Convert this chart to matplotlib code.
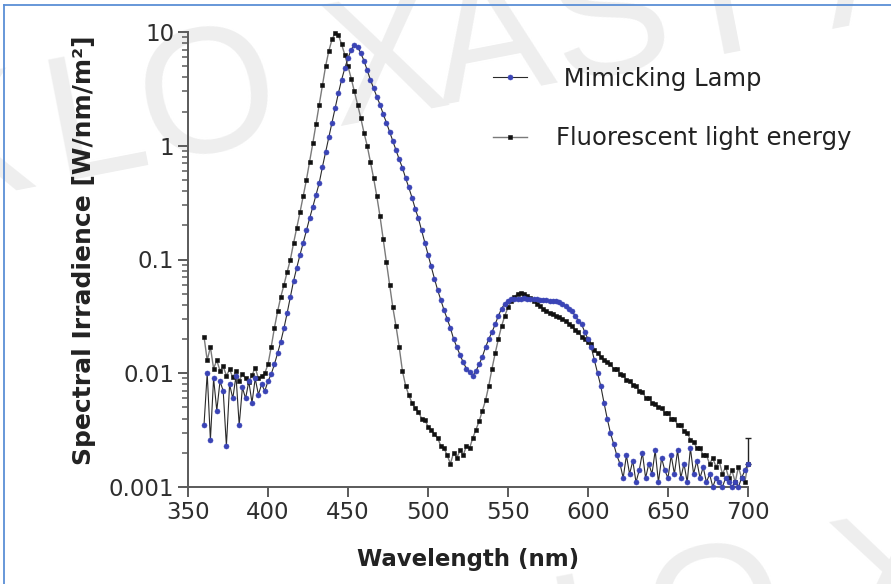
import numpy as np
import matplotlib
matplotlib.use("Agg")
import matplotlib.pyplot as plt
from matplotlib.lines import Line2D
from matplotlib.ticker import FixedLocator, FixedFormatter, LogLocator, NullFormatter

# ---------------- data ----------------
wavelength = np.arange(360, 702, 2)  # nm, sampling grid

fluorescent = [
    0.021, 0.013, 0.017, 0.011, 0.013, 0.0105, 0.0115, 0.0095, 0.0108, 0.0092,
    0.0104, 0.0086, 0.0098, 0.0090, 0.0084, 0.0096, 0.0112, 0.0090, 0.0094, 0.0100,
    0.012, 0.017, 0.025, 0.035, 0.047, 0.060, 0.078, 0.10, 0.14, 0.19,
    0.26, 0.36, 0.50, 0.72, 1.05, 1.55, 2.3, 3.4, 5.0, 6.8,
    8.6, 9.8, 9.4, 7.8, 6.3, 5.0, 3.9, 3.0, 2.3, 1.75,
    1.3, 1.0, 0.72, 0.52, 0.36, 0.24, 0.15, 0.095, 0.060, 0.038,
    0.026, 0.017, 0.0105, 0.0078, 0.0064, 0.0055, 0.0049, 0.0046, 0.0040, 0.0039,
    0.0034, 0.0032, 0.0029, 0.0027, 0.0023, 0.0022, 0.0019, 0.0016, 0.0020, 0.0018,
    0.0021, 0.0019, 0.0023, 0.0022, 0.0027, 0.0032, 0.0038, 0.0047, 0.0058, 0.0078,
    0.011, 0.015, 0.020, 0.026, 0.032, 0.038, 0.043, 0.047, 0.050, 0.051,
    0.050, 0.048, 0.046, 0.043, 0.041, 0.039, 0.037, 0.035, 0.034, 0.033,
    0.032, 0.031, 0.030, 0.029, 0.027, 0.026, 0.024, 0.023, 0.021, 0.020,
    0.019, 0.018, 0.016, 0.015, 0.014, 0.013, 0.0125, 0.012, 0.011, 0.011,
    0.0098, 0.0096, 0.0088, 0.0086, 0.0079, 0.0078, 0.0070, 0.0069, 0.0061, 0.0061,
    0.0055, 0.0054, 0.0050, 0.0049, 0.0045, 0.0045, 0.0040, 0.0040, 0.0035, 0.0035,
    0.0031, 0.0030, 0.0026, 0.0025, 0.0022, 0.0022, 0.0019, 0.0019, 0.0016, 0.0018,
    0.0015, 0.0017, 0.0013, 0.0015, 0.0012, 0.0014, 0.0011, 0.0015, 0.0012, 0.0011,
    0.0016,
]

mimicking = [
    0.0035, 0.0100, 0.0026, 0.0090, 0.0047, 0.0085, 0.0070, 0.0023, 0.0080, 0.0060,
    0.0095, 0.0035, 0.0075, 0.0060, 0.0085, 0.0055, 0.0090, 0.0065, 0.0080, 0.0070,
    0.0085, 0.0098, 0.012, 0.015, 0.019, 0.025, 0.034, 0.047, 0.065, 0.085,
    0.11, 0.14, 0.18, 0.23, 0.29, 0.37, 0.47, 0.65, 0.88, 1.2,
    1.6, 2.15, 2.9, 3.8, 4.8, 5.9, 7.0, 7.7, 7.4, 6.5,
    5.6, 4.6, 3.8, 3.2, 2.7, 2.3, 1.9, 1.6, 1.33, 1.1,
    0.92, 0.76, 0.64, 0.52, 0.43, 0.35, 0.28, 0.23, 0.18, 0.14,
    0.11, 0.087, 0.068, 0.054, 0.044, 0.036, 0.030, 0.025, 0.020, 0.017,
    0.0145, 0.0125, 0.011, 0.0102, 0.0095, 0.0105, 0.012, 0.014, 0.017, 0.020,
    0.023, 0.027, 0.032, 0.037, 0.041, 0.043, 0.045, 0.045, 0.045, 0.045,
    0.0455, 0.045, 0.045, 0.0445, 0.0445, 0.044, 0.044, 0.0438, 0.0435, 0.043,
    0.043, 0.042, 0.041, 0.039, 0.037, 0.035, 0.032, 0.029, 0.027, 0.023,
    0.020, 0.017, 0.013, 0.0100, 0.0077, 0.0055, 0.0040, 0.0030, 0.0024, 0.0019,
    0.0016, 0.0012, 0.0019, 0.0013, 0.0017, 0.0011, 0.0014, 0.0020, 0.0012, 0.0016,
    0.0013, 0.0021, 0.0011, 0.0018, 0.0014, 0.0012, 0.0019, 0.0013, 0.0021, 0.0012,
    0.0016, 0.0011, 0.0022, 0.0013, 0.0017, 0.0012, 0.0015, 0.0011, 0.0013, 0.0010,
    0.0012, 0.0011, 0.0010, 0.0012, 0.0011, 0.0010, 0.0011, 0.0010, 0.0012, 0.0014,
    0.0016,
]

# single visible error bar at the end of the fluorescent series
err_x = [700]
err_y = [0.0016]
err_up = [0.0011]

series_labels = [" Mimicking Lamp", "Fluorescent light energy"]
xticks = [350, 400, 450, 500, 550, 600, 650, 700]
yticks = [0.001, 0.01, 0.1, 1, 10]
ytick_labels = ["0.001", "0.01", "0.1", "1", "10"]
watermark_text = "KLOXASIA"

# ---------------- figure ----------------
W, H = 891, 584
fig = plt.figure(figsize=(W / 100, H / 100), dpi=100)
fig.patch.set_facecolor("white")
FONT = "DejaVu Sans"

# watermark (behind everything), letters placed along a slightly rising baseline
wm_color = "#eeeeee"
wm_centers = [-20, 105, 218, 395, 500, 620, 732, 890]   # pixel x of each letter
wm_angle = 11.0
tan_a = np.tan(np.radians(wm_angle))
for dx, dy in [(0, 0), (508, 517)]:
    for ch, cx in zip(watermark_text, wm_centers):
        by = 180 - (cx - 57) * tan_a
        fig.text((cx + dx) / W, 1 - (by + dy) / H, ch, fontsize=128,
                 color=wm_color, family="Liberation Sans", rotation=wm_angle,
                 rotation_mode="anchor", ha="center", va="baseline", zorder=-5)

# border (left and top)
bcol = "#5b8fd6"
fig.add_artist(Line2D([4 / W, 4 / W], [0, 1 - 5 / H], color=bcol, lw=1.3,
                      transform=fig.transFigure, zorder=10))
fig.add_artist(Line2D([4 / W, 1], [1 - 5 / H, 1 - 5 / H], color=bcol, lw=1.3,
                      transform=fig.transFigure, zorder=10))

ax = fig.add_axes([188 / W, 1 - 487 / H, 560 / W, 455 / H])
ax.set_zorder(2)
ax.patch.set_alpha(0)

fl_line, = ax.plot(wavelength, fluorescent, color="#7a7a7a", lw=1.0,
                   marker="s", markersize=3.2, markerfacecolor="#111111",
                   markeredgecolor="#111111", markeredgewidth=0.4,
                   label=series_labels[1], zorder=3, clip_on=False)
ax.errorbar(err_x, err_y, yerr=[[0], err_up], fmt="none", ecolor="#222222",
            elinewidth=1.0, capsize=2.5, capthick=1.0, zorder=3, clip_on=False)
mi_line, = ax.plot(wavelength, mimicking, color="#2a2a2a", lw=0.8,
                   marker="o", markersize=3.6, markerfacecolor="#3a44b6",
                   markeredgecolor="#3a44b6", markeredgewidth=0.4,
                   label=series_labels[0], zorder=4, clip_on=False)

ax.set_yscale("log")
ax.set_xlim(350, 700)
ax.set_ylim(0.001, 10)

ax.xaxis.set_major_locator(FixedLocator(xticks))
ax.yaxis.set_major_locator(FixedLocator(yticks))
ax.yaxis.set_major_formatter(FixedFormatter(ytick_labels))
ax.yaxis.set_minor_locator(LogLocator(base=10, subs=np.arange(2, 10)))
ax.yaxis.set_minor_formatter(NullFormatter())

for s in ("top", "right"):
    ax.spines[s].set_visible(False)
for s in ("left", "bottom"):
    ax.spines[s].set_color("#5a5a5a")
    ax.spines[s].set_linewidth(1.4)

ax.tick_params(axis="both", which="major", direction="out", length=7, width=1.4,
               color="#5a5a5a", labelsize=16.5, labelcolor="#2e2e2e", pad=3)
ax.tick_params(axis="y", which="minor", direction="out", length=4, width=1.1,
               color="#5a5a5a")
for lab in ax.get_xticklabels() + ax.get_yticklabels():
    lab.set_family(FONT)

ax.set_xlabel("Wavelength (nm)", fontsize=16.5, fontweight="bold",
              family=FONT, color="#222222")
ax.xaxis.set_label_coords(0.5, -0.135)
ax.xaxis.label.set_va("top")
ax.set_ylabel("Spectral Irradience [W/nm/m²]", fontsize=18, fontweight="bold",
              family=FONT, color="#222222")
ax.yaxis.set_label_coords(-0.186, 0.52)
ax.yaxis.label.set_va("center")

leg = ax.legend(handles=[mi_line, fl_line], loc="upper left",
                bbox_to_anchor=(493 / W, 1 - 67 / H), bbox_transform=fig.transFigure,
                frameon=False, prop={"family": FONT, "size": 17.5},
                handlelength=1.4, handletextpad=1.2, labelspacing=1.45,
                borderpad=0, borderaxespad=0, numpoints=1, markerscale=1.0)
for t in leg.get_texts():
    t.set_color("#222222")

fig.savefig("out.png", dpi=100)
